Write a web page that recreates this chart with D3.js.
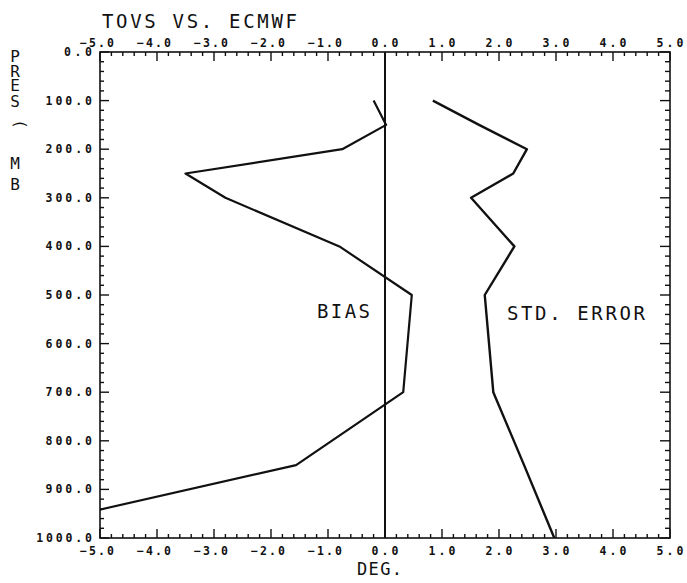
<!DOCTYPE html>
<html>
<head>
<meta charset="utf-8">
<script src="https://cdn.jsdelivr.net/npm/d3@7"></script>
<style>
  body { margin: 0; background: #fff; }
  text { font-family: "DejaVu Sans Mono", monospace; fill: #111; }
</style>
</head>
<body>
<svg id="chart"></svg>
<script>

// pressure levels (mb) and the two profiles
var levels = [100, 150, 200, 250, 300, 400, 500, 700, 850, 1000];
var bias = [-0.2, 0.02, -0.75, -3.5, -2.8, -0.8, 0.47, 0.32, -1.56, -7.2];
var stdError = [0.84, 1.65, 2.49, 2.25, 1.51, 2.27, 1.75, 1.9, 2.44, 2.97];

// tick labels
var xTickValues = [-5, -4, -3, -2, -1, 0, 1, 2, 3, 4, 5];
var yTickValues = [0, 100, 200, 300, 400, 500, 600, 700, 800, 900, 1000];

var width = 687, height = 583;
var plotLeft = 100, plotRight = 670, plotTop = 52, plotBottom = 538;

var svg = d3.select("#chart")
    .attr("width", width)
    .attr("height", height);

var x = d3.scaleLinear().domain([-5, 5]).range([plotLeft, plotRight]);
var y = d3.scaleLinear().domain([0, 1000]).range([plotTop, plotBottom]);

var ink = "#111";

//frame
svg.append("rect")
    .attr("x", plotLeft)
    .attr("y", plotTop)
    .attr("width", plotRight - plotLeft)
    .attr("height", plotBottom - plotTop)
    .style("fill", "none")
    .style("stroke", ink)
    .style("stroke-width", "1.6px");

//minor and major ticks, pointing inward
var xMinor = d3.range(-5, 5.001, 0.2);
var yMinor = d3.range(0, 1000.1, 20);

function isMajorX(v) { return Math.abs(v - Math.round(v)) < 1e-6; }
function isMajorY(v) { return Math.abs(v % 100) < 1e-6; }

svg.selectAll("line.xtop")
    .data(xMinor)
    .enter()
    .append("line")
    .attr("x1", function(d) { return x(d); })
    .attr("x2", function(d) { return x(d); })
    .attr("y1", plotTop)
    .attr("y2", function(d) { return plotTop + (isMajorX(d) ? 9 : 4); })
    .style("stroke", ink)
    .style("stroke-width", "1.4px");

svg.selectAll("line.xbot")
    .data(xMinor)
    .enter()
    .append("line")
    .attr("x1", function(d) { return x(d); })
    .attr("x2", function(d) { return x(d); })
    .attr("y1", plotBottom)
    .attr("y2", function(d) { return plotBottom - (isMajorX(d) ? 9 : 4); })
    .style("stroke", ink)
    .style("stroke-width", "1.4px");

svg.selectAll("line.yleft")
    .data(yMinor)
    .enter()
    .append("line")
    .attr("x1", plotLeft)
    .attr("x2", function(d) { return plotLeft + (isMajorY(d) ? 9 : 4); })
    .attr("y1", function(d) { return y(d); })
    .attr("y2", function(d) { return y(d); })
    .style("stroke", ink)
    .style("stroke-width", "1.4px");

svg.selectAll("line.yright")
    .data(yMinor)
    .enter()
    .append("line")
    .attr("x1", plotRight)
    .attr("x2", function(d) { return plotRight - (isMajorY(d) ? 10 : 5); })
    .attr("y1", function(d) { return y(d); })
    .attr("y2", function(d) { return y(d); })
    .style("stroke", ink)
    .style("stroke-width", "1.4px");

//tick labels
var fmt = d3.format(".1f");

function tickLabel(sel) {
  sel.style("font-size", "11.5px")
     .style("font-weight", "bold")
     .attr("lengthAdjust", "spacing");
}

svg.selectAll("text.xtop")
    .data(xTickValues)
    .enter()
    .append("text")
    .attr("x", function(d) { return x(d) + (d < 0 ? -3 : 0); })
    .attr("y", plotTop - 5)
    .attr("text-anchor", "middle")
    .attr("textLength", function(d) { return d < 0 ? 34 : 27; })
    .call(tickLabel)
    .text(function(d) { return fmt(d); });

svg.selectAll("text.xbot")
    .data(xTickValues)
    .enter()
    .append("text")
    .attr("x", function(d) { return x(d) + (d < 0 ? -3 : 0); })
    .attr("y", plotBottom + 17)
    .attr("text-anchor", "middle")
    .attr("textLength", function(d) { return d < 0 ? 34 : 27; })
    .call(tickLabel)
    .text(function(d) { return fmt(d); });

svg.selectAll("text.yleft")
    .data(yTickValues)
    .enter()
    .append("text")
    .attr("x", 92)
    .attr("y", function(d) { return y(d) + 4; })
    .attr("text-anchor", "end")
    .attr("textLength", function(d) { return fmt(d).length * 9.3; })
    .call(tickLabel)
    .text(function(d) { return fmt(d); });

//zero reference line
svg.append("line")
    .attr("x1", x(0))
    .attr("x2", x(0))
    .attr("y1", plotTop)
    .attr("y2", plotBottom)
    .style("stroke", ink)
    .style("stroke-width", "2px");

//profiles
svg.append("clipPath")
    .attr("id", "plotClip")
    .append("rect")
    .attr("x", plotLeft)
    .attr("y", plotTop)
    .attr("width", plotRight - plotLeft)
    .attr("height", plotBottom - plotTop);

var line = d3.line()
    .x(function(d) { return x(d.value); })
    .y(function(d) { return y(d.level); })
    .curve(d3.curveLinear);

var biasData = levels.map(function(p, i) { return {level: p, value: bias[i]}; });
var stdData = levels.map(function(p, i) { return {level: p, value: stdError[i]}; });

svg.append("path")
    .datum(biasData)
    .attr("d", line)
    .attr("clip-path", "url(#plotClip)")
    .style("fill", "none")
    .style("stroke", ink)
    .style("stroke-width", "2.2px")
    .style("stroke-linejoin", "round");

svg.append("path")
    .datum(stdData)
    .attr("d", line)
    .attr("clip-path", "url(#plotClip)")
    .style("fill", "none")
    .style("stroke", ink)
    .style("stroke-width", "2.4px")
    .style("stroke-linejoin", "round");

//labels
function bigText(sel) {
  sel.style("font-size", "19px")
     .attr("lengthAdjust", "spacing");
}

svg.append("text")
    .attr("x", 102)
    .attr("y", 28)
    .attr("textLength", 195)
    .call(bigText)
    .text("TOVS VS. ECMWF");

svg.append("text")
    .attr("x", 317)
    .attr("y", 318)
    .attr("textLength", 53)
    .call(bigText)
    .text("BIAS");

svg.append("text")
    .attr("x", 507)
    .attr("y", 320)
    .attr("textLength", 138)
    .call(bigText)
    .text("STD. ERROR");

svg.append("text")
    .attr("x", 357)
    .attr("y", 575)
    .attr("textLength", 45)
    .style("font-size", "17px")
    .attr("lengthAdjust", "spacing")
    .text("DEG.");

//vertical axis title, letters stacked
var yTitle = [
  {ch: "P", y: 62, rot: 0},
  {ch: "R", y: 77, rot: 0},
  {ch: "E", y: 91, rot: 0},
  {ch: "S", y: 107, rot: 0},
  {ch: "(", y: 124, rot: 90},
  {ch: "M", y: 169, rot: 0},
  {ch: "B", y: 190, rot: 0}
];

svg.selectAll("text.ytitle")
    .data(yTitle)
    .enter()
    .append("text")
    .attr("text-anchor", "middle")
    .attr("transform", function(d) {
      return "translate(15," + d.y + ") rotate(" + d.rot + ")";
    })
    .style("font-size", "16px")
    .text(function(d) { return d.ch; });

</script>
</body>
</html>
